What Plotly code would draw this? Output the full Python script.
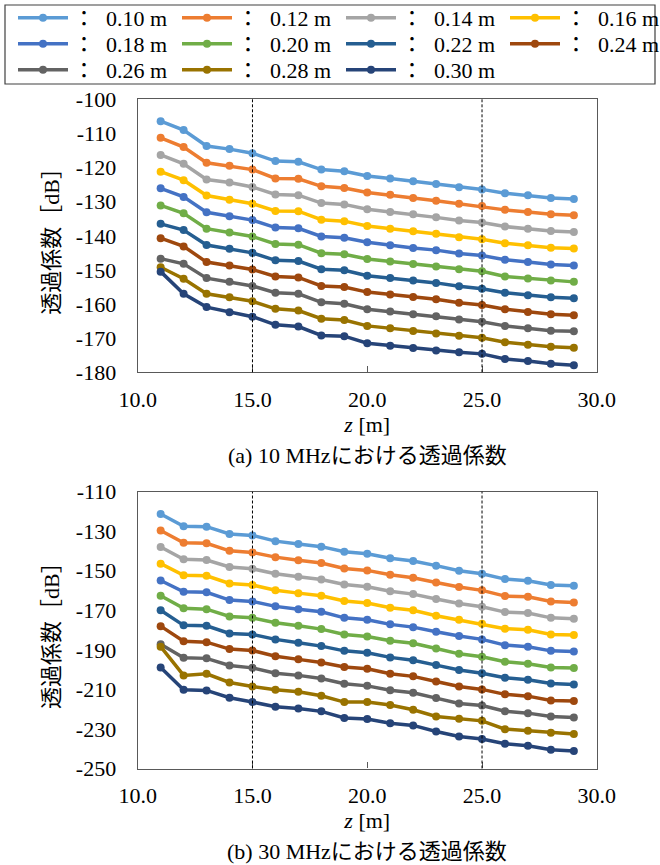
import plotly.graph_objects as go
from plotly.subplots import make_subplots

z = [11, 12, 13, 14, 15, 16, 17, 18, 19, 20, 21, 22, 23, 24, 25, 26, 27, 28, 29]
diameters = ["0.10 m", "0.12 m", "0.14 m", "0.16 m", "0.18 m", "0.20 m",
             "0.22 m", "0.24 m", "0.26 m", "0.28 m", "0.30 m"]
colors = ["#5B9BD5", "#ED7D31", "#A5A5A5", "#FFC000", "#4472C4", "#70AD47",
          "#255E91", "#9E480E", "#636363", "#997300", "#264478"]

# (a) 10 MHz
t10_010 = [-106.4, -109.0, -113.7, -114.6, -115.8, -118.1, -118.3, -120.6, -121.1, -122.5, -123.2, -124.0, -124.8, -125.8, -126.4, -127.5, -128.1, -128.9, -129.2]
t10_012 = [-111.3, -114.0, -118.6, -119.5, -120.6, -123.2, -123.3, -125.5, -126.0, -127.3, -128.0, -128.9, -129.7, -130.6, -131.3, -132.4, -133.0, -133.7, -134.0]
t10_014 = [-116.3, -118.9, -123.5, -124.4, -125.7, -127.9, -128.1, -130.4, -130.8, -132.2, -133.0, -133.7, -134.6, -135.5, -136.1, -137.3, -137.9, -138.6, -138.9]
t10_016 = [-121.2, -123.7, -128.2, -129.4, -130.6, -132.7, -132.8, -135.3, -135.7, -137.1, -137.9, -138.7, -139.4, -140.4, -141.0, -142.2, -142.8, -143.5, -143.7]
t10_018 = [-126.1, -128.6, -133.1, -134.3, -135.4, -137.6, -137.8, -140.2, -140.6, -141.9, -142.8, -143.6, -144.2, -145.2, -145.8, -147.0, -147.7, -148.4, -148.7]
t10_020 = [-131.1, -133.4, -137.9, -139.0, -140.2, -142.4, -142.6, -145.1, -145.4, -146.8, -147.5, -148.3, -149.0, -149.8, -150.4, -151.9, -152.5, -153.1, -153.5]
t10_022 = [-136.5, -138.3, -142.7, -143.8, -145.0, -147.2, -147.4, -149.8, -150.1, -151.7, -152.4, -153.1, -153.8, -154.8, -155.5, -156.7, -157.4, -158.0, -158.3]
t10_024 = [-140.7, -143.1, -147.7, -148.7, -149.9, -151.9, -152.2, -154.7, -155.0, -156.5, -157.2, -157.9, -158.6, -159.6, -160.3, -161.5, -162.3, -163.0, -163.3]
t10_026 = [-146.7, -148.2, -152.4, -153.5, -154.7, -156.7, -157.0, -159.5, -159.9, -161.5, -162.2, -163.0, -163.6, -164.5, -165.2, -166.4, -167.1, -167.8, -168.0]
t10_028 = [-149.2, -152.6, -157.0, -158.0, -159.2, -161.4, -161.9, -164.3, -164.7, -166.4, -167.1, -167.9, -168.6, -169.3, -169.9, -171.2, -171.9, -172.5, -172.8]
t10_030 = [-150.5, -157.0, -160.9, -162.4, -163.7, -166.1, -166.6, -169.2, -169.4, -171.5, -172.2, -172.9, -173.6, -174.1, -174.6, -176.1, -176.7, -177.5, -177.9]

# (b) 30 MHz
t30_010 = [-121.3, -127.5, -127.7, -131.4, -132.1, -135.0, -136.5, -137.8, -140.4, -141.4, -143.7, -145.1, -147.4, -150.0, -151.5, -154.2, -155.0, -157.2, -157.6]
t30_012 = [-129.6, -135.8, -136.1, -139.9, -140.7, -143.1, -144.7, -146.1, -148.8, -149.8, -152.0, -153.5, -155.9, -158.2, -159.9, -162.8, -163.1, -165.5, -166.0]
t30_014 = [-138.0, -144.2, -144.6, -148.1, -149.0, -151.5, -153.0, -154.4, -156.9, -158.1, -160.3, -161.8, -164.3, -166.5, -168.2, -170.9, -171.4, -173.8, -174.3]
t30_016 = [-146.4, -152.3, -152.5, -156.4, -157.2, -159.8, -161.3, -162.6, -165.3, -166.3, -168.7, -170.0, -172.7, -174.8, -176.8, -179.3, -179.8, -182.2, -182.5]
t30_018 = [-154.9, -160.6, -160.9, -164.8, -165.5, -168.0, -169.5, -170.7, -173.8, -174.8, -177.1, -178.5, -180.8, -183.0, -184.7, -187.6, -188.4, -190.5, -190.8]
t30_020 = [-162.6, -169.0, -169.4, -173.1, -173.8, -176.3, -177.8, -179.5, -182.2, -183.2, -185.4, -186.7, -189.3, -192.0, -193.5, -196.0, -197.0, -198.9, -199.2]
t30_022 = [-170.0, -177.6, -177.8, -181.7, -182.2, -184.7, -186.4, -188.1, -190.5, -191.5, -193.8, -195.3, -197.7, -200.2, -201.8, -204.1, -205.1, -207.0, -207.5]
t30_024 = [-178.0, -185.6, -186.1, -189.6, -190.3, -193.2, -194.8, -196.4, -198.7, -199.6, -202.1, -203.4, -206.0, -208.5, -210.0, -212.5, -213.4, -215.6, -215.9]
t30_026 = [-187.2, -194.0, -194.3, -197.9, -199.1, -201.8, -202.9, -204.5, -207.1, -208.2, -210.4, -211.7, -214.4, -217.1, -218.1, -221.0, -222.0, -223.7, -224.2]
t30_028 = [-188.4, -202.9, -202.1, -206.5, -208.5, -210.2, -211.2, -213.2, -216.4, -216.4, -217.9, -220.3, -223.7, -224.9, -225.9, -230.1, -230.9, -231.9, -232.6]
t30_030 = [-198.9, -210.2, -210.5, -214.2, -216.4, -218.8, -219.6, -221.1, -224.4, -225.0, -227.1, -228.2, -231.3, -233.8, -235.1, -237.5, -238.5, -240.5, -241.2]

series_10 = [t10_010, t10_012, t10_014, t10_016, t10_018, t10_020, t10_022, t10_024, t10_026, t10_028, t10_030]
series_30 = [t30_010, t30_012, t30_014, t30_016, t30_018, t30_020, t30_022, t30_024, t30_026, t30_028, t30_030]

x_ticks = [10, 15, 20, 25, 30]
x_ticktext = ["10.0", "15.0", "20.0", "25.0", "30.0"]
y_ticks_a = [-100, -110, -120, -130, -140, -150, -160, -170, -180]
y_ticks_b = [-110, -130, -150, -170, -190, -210, -230, -250]
ref_lines = [15, 25]

caption_a = "(a) 10 MHzにおける透過係数"
caption_b = "(b) 30 MHzにおける透過係数"
y_title = "透過係数［dB］"
x_title = "<i>z</i> [m]"

FONT = "Liberation Serif, Times New Roman, Tinos, DejaVu Serif, Noto Sans CJK JP, serif"
FS = 22

H = 865
W = 660

# legend rows (4 entries per row, as in the reference)
legend_ids = ["legend", "legend2", "legend3"]
row_centers_px = [18, 44, 70]

fig = make_subplots(rows=2, cols=1)

for i, name in enumerate(diameters):
    lg = legend_ids[i // 4]
    fig.add_trace(go.Scatter(
        x=z, y=series_10[i], mode="lines+markers", name="：  " + name,
        line=dict(color=colors[i], width=3.5),
        marker=dict(color=colors[i], size=8),
        legend=lg, legendgroup=name, showlegend=True), row=1, col=1)
    fig.add_trace(go.Scatter(
        x=z, y=series_30[i], mode="lines+markers", name="：  " + name,
        line=dict(color=colors[i], width=3.5),
        marker=dict(color=colors[i], size=8),
        legend=lg, legendgroup=name, showlegend=False), row=2, col=1)

xdom = [137.7 / W, 596.8 / W]
axis_common = dict(showline=True, linecolor="#595959", linewidth=1.2, mirror=True,
                   showgrid=False, zeroline=False, automargin=False,
                   tickfont=dict(family=FONT, size=FS, color="#000"))

fig.update_xaxes(**axis_common, range=[10, 30], tickvals=x_ticks, ticktext=x_ticktext,
                 ticks="inside", ticklen=6, tickcolor="#595959", domain=xdom,
                 ticklabelstandoff=7,
                 title=dict(text=x_title, font=dict(family=FONT, size=FS, color="#000"), standoff=3))
fig.update_yaxes(**axis_common, ticks="", ticklabelstandoff=16,
                 title=dict(text=y_title, font=dict(family=FONT, size=FS, color="#000"), standoff=10))
fig.update_yaxes(range=[-180, -100], tickvals=y_ticks_a, ticktext=[str(v) for v in y_ticks_a],
                 domain=[1 - 372.3 / H, 1 - 99.3 / H], row=1, col=1)
fig.update_yaxes(range=[-250, -110], tickvals=y_ticks_b, ticktext=[str(v) for v in y_ticks_b],
                 domain=[1 - 768.5 / H, 1 - 491.7 / H], row=2, col=1)

for r in (1, 2):
    for xv in ref_lines:
        fig.add_vline(x=xv, line=dict(color="#000", width=1, dash="3px,2px"), row=r, col=1)

fig.add_annotation(text=caption_a, xref="paper", yref="paper", x=367 / W, y=1 - 456 / H,
                   xanchor="center", yanchor="middle", showarrow=False,
                   font=dict(family=FONT, size=FS, color="#000"))
fig.add_annotation(text=caption_b, xref="paper", yref="paper", x=367 / W, y=1 - 851 / H,
                   xanchor="center", yanchor="middle", showarrow=False,
                   font=dict(family=FONT, size=FS, color="#000"))

# frame around the legend rows
fig.add_shape(type="rect", xref="paper", yref="paper",
              x0=5 / W, x1=655 / W, y0=1 - 84 / H, y1=1 - 5 / H,
              line=dict(color="#404040", width=1.2), fillcolor="rgba(0,0,0,0)")

legend_style = dict(orientation="h", xanchor="left", yanchor="middle",
                    borderwidth=0, bgcolor="rgba(0,0,0,0)",
                    font=dict(family=FONT, size=FS, color="#000"),
                    entrywidth=99, itemwidth=50, tracegroupgap=0, traceorder="normal")

fig.update_layout(
    width=W, height=H, autosize=False,
    margin=dict(l=0, r=0, t=0, b=0, autoexpand=False),
    plot_bgcolor="white", paper_bgcolor="white",
    font=dict(family=FONT, size=FS, color="#000"),
    legend=dict(**legend_style, x=13 / W, y=1 - row_centers_px[0] / H),
    legend2=dict(**legend_style, x=13 / W, y=1 - row_centers_px[1] / H),
    legend3=dict(**legend_style, x=13 / W, y=1 - row_centers_px[2] / H),
)

fig.write_html("out.html", config={"displayModeBar": False},
               post_script="document.body.style.margin='0';document.body.style.overflow='hidden';")
